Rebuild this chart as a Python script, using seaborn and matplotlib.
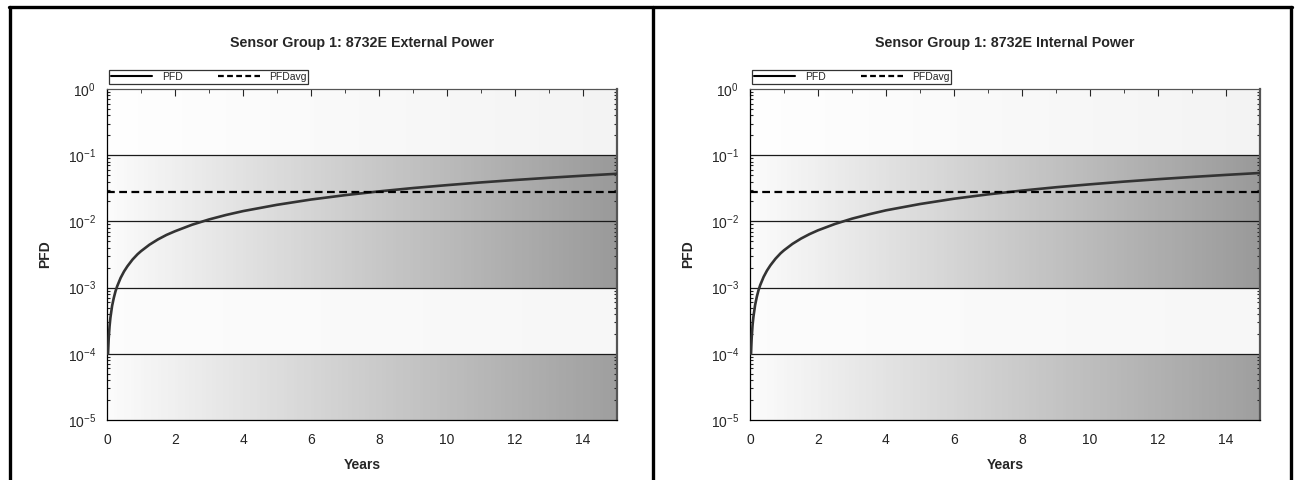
#!/usr/bin/env python3

import matplotlib

matplotlib.use("Agg")
import matplotlib.pyplot as plt
import matplotlib.ticker as mticker
from matplotlib.lines import Line2D
import numpy as np
import pandas
import seaborn as sns

sns.set_style("white")
plt.rcParams["font.family"] = ["Liberation Sans", "DejaVu Sans"]
plt.rcParams["axes.unicode_minus"] = False
plt.rcParams["mathtext.fontset"] = "custom"
plt.rcParams["mathtext.rm"] = "Liberation Sans"
plt.rcParams["mathtext.it"] = "Liberation Sans"
plt.rcParams["mathtext.default"] = "rm"

# Values
years = [0.03, 0.04, 0.05, 0.075, 0.1, 0.15, 0.2, 0.25, 0.3, 0.4, 0.5, 0.6,
         0.75, 0.9, 1, 1.25, 1.5, 1.75, 2, 2.5, 3, 3.5, 4, 5, 6, 7, 8,
         9, 10, 11, 12, 13, 14, 15]
pfd_external = [1.0e-4, 1.3e-4, 1.7e-4, 2.6e-4, 3.5e-4, 5.3e-4, 7.0e-4,
                8.8e-4, 1.05e-3, 1.4e-3, 1.75e-3, 2.1e-3, 2.65e-3, 3.2e-3,
                3.55e-3, 4.45e-3, 5.35e-3, 6.25e-3, 7.1e-3, 8.9e-3, 1.07e-2,
                1.25e-2, 1.43e-2, 1.78e-2, 2.14e-2, 2.49e-2, 2.84e-2, 3.19e-2,
                3.53e-2, 3.88e-2, 4.22e-2, 4.56e-2, 4.90e-2, 5.24e-2]
pfd_internal = [1.0e-4, 1.35e-4, 1.75e-4, 2.7e-4, 3.6e-4, 5.45e-4, 7.25e-4,
                9.1e-4, 1.09e-3, 1.45e-3, 1.81e-3, 2.17e-3, 2.73e-3, 3.3e-3,
                3.66e-3, 4.58e-3, 5.5e-3, 6.42e-3, 7.33e-3, 9.15e-3, 1.1e-2,
                1.28e-2, 1.47e-2, 1.83e-2, 2.2e-2, 2.56e-2, 2.92e-2, 3.28e-2,
                3.63e-2, 3.99e-2, 4.34e-2, 4.69e-2, 5.04e-2, 5.39e-2]
pfdavg_external = 2.75e-2
pfdavg_internal = 2.8e-2
titles = ["Sensor Group 1: 8732E External Power",
          "Sensor Group 1: 8732E Internal Power"]

# background bands: (low, high, left grey, right grey)
bands = [(1e-1, 1e0, 0.995, 0.95),
         (1e-3, 1e-1, 0.985, 0.60),
         (1e-4, 1e-3, 0.985, 0.965),
         (1e-5, 1e-4, 0.985, 0.62)]

W, H = 1295, 480


def decade_label(value, pos):
    return "10$^{%d}$" % int(round(np.log10(value)))


def draw_panel(ax, pfd, pfdavg, title):
    xe = np.linspace(0, 15, 151)
    xc = (xe[:-1] + xe[1:]) / 2
    for lo, hi, g0, g1 in bands:
        shade = (g0 + (g1 - g0) * xc / 15)[None, :]
        ax.pcolormesh(xe, [lo, hi], shade, cmap="gray", vmin=0, vmax=1,
                      shading="flat", zorder=0)
    for lvl in [1e-1, 1e-2, 1e-3, 1e-4]:
        ax.axhline(lvl, color="#1a1a1a", lw=0.9, zorder=1)

    df = pandas.DataFrame({"Years": years, "PFD": pfd})
    sns.lineplot(data=df, x="Years", y="PFD", ax=ax, color="#333333",
                 lw=1.9, zorder=3)
    ax.plot([0, 15], [pfdavg, pfdavg], color="black", lw=1.6,
            ls=(0, (3.5, 2)), zorder=4)

    ax.set_yscale("log")
    ax.set_xlim(0, 15)
    ax.set_ylim(1e-5, 1e0)
    ax.xaxis.set_major_locator(mticker.MultipleLocator(2))
    ax.xaxis.set_minor_locator(mticker.MultipleLocator(0.5))
    ax.yaxis.set_major_locator(mticker.LogLocator(base=10, numticks=10))
    ax.yaxis.set_major_formatter(mticker.FuncFormatter(decade_label))
    ax.yaxis.set_minor_locator(
        mticker.LogLocator(base=10, subs=np.arange(2, 10), numticks=20))
    ax.yaxis.set_minor_formatter(mticker.NullFormatter())
    ax.tick_params(axis="x", which="major", direction="out", length=5,
                   width=1, labelsize=10, colors="#222222", pad=4)
    ax.tick_params(axis="x", which="minor", direction="out", length=3,
                   width=0.8)
    ax.tick_params(axis="y", which="major", direction="out", length=5,
                   width=1, labelsize=10, pad=3)
    ax.tick_params(axis="y", which="minor", direction="in", length=2,
                   width=0.8, left=True, right=True)
    top = ax.secondary_xaxis("top")
    top.xaxis.set_major_locator(mticker.MultipleLocator(2))
    top.xaxis.set_minor_locator(mticker.MultipleLocator(1))
    top.tick_params(which="major", direction="in", length=5, labeltop=False)
    top.tick_params(which="minor", direction="in", length=3)
    top.spines["top"].set_color("#555555")

    for side in ["left", "bottom"]:
        ax.spines[side].set_color("black")
        ax.spines[side].set_linewidth(0.9)
    ax.spines["right"].set_color("#555555")
    ax.spines["right"].set_linewidth(1.6)
    ax.spines["top"].set_color("#555555")

    ax.set_xlabel("Years", fontsize=10, fontweight="bold", labelpad=8)
    ax.set_ylabel("PFD", fontsize=10, fontweight="bold", labelpad=11)
    ax.set_title(title, fontsize=10.3, fontweight="bold", pad=30)

    handles = [Line2D([], [], color="black", lw=1.5),
               Line2D([], [], color="black", lw=1.6, ls=(0, (2.6, 1.5)))]
    leg = ax.legend(handles, ["PFD", "PFDavg"], loc="lower left",
                    bbox_to_anchor=(0.0, 1.01), ncol=2, fontsize=7.5,
                    frameon=True, fancybox=False, edgecolor="black",
                    borderpad=0.15, handlelength=4.0, columnspacing=3.4,
                    handletextpad=0.9, borderaxespad=0.2)
    leg.get_frame().set_linewidth(0.9)


def main():
    fig = plt.figure(figsize=(W / 100, H / 100), dpi=100)
    fig.patch.set_facecolor("white")

    ax_w, ax_h = 510 / W, 331 / H
    ax_b = (H - 420) / H
    ax1 = fig.add_axes([107 / W, ax_b, ax_w, ax_h])
    ax2 = fig.add_axes([750 / W, ax_b, ax_w, ax_h])
    draw_panel(ax1, pfd_external, pfdavg_external, titles[0])
    draw_panel(ax2, pfd_internal, pfdavg_internal, titles[1])

    # panel frames
    ytop = 1 - 7 / H
    for x in [10, 653, 1291]:
        fig.add_artist(Line2D([x / W, x / W], [0, ytop], color="black",
                              lw=2.4, transform=fig.transFigure))
    fig.add_artist(Line2D([9 / W, 1292 / W], [ytop, ytop], color="black",
                          lw=2.4, transform=fig.transFigure))

    fig.savefig("out.png", dpi=100)


if __name__ == "__main__":
    main()
